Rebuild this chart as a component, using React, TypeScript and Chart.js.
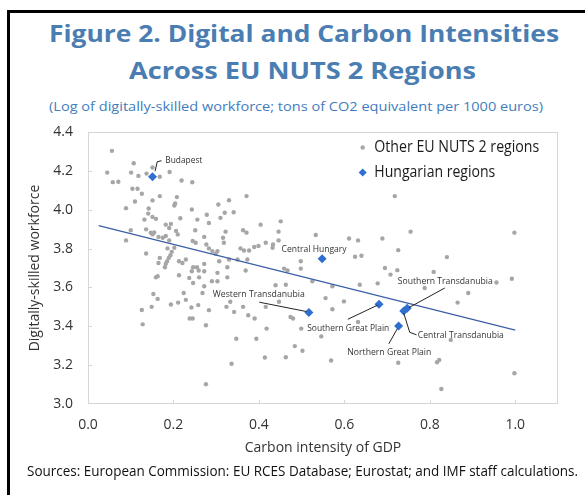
import React, { useEffect, useLayoutEffect, useRef } from "react";
import { Chart, registerables } from "chart.js";

Chart.register(...registerables);

// ---------------- data ----------------
const TITLE_LINE_1 = "Figure 2. Digital and Carbon Intensities";
const TITLE_LINE_2 = "Across EU NUTS 2 Regions";
const SUBTITLE = "(Log of digitally-skilled workforce; tons of CO2 equivalent per 1000 euros)";
const SOURCES = "Sources: European Commission: EU RCES Database; Eurostat; and IMF staff calculations.";
const X_TITLE = "Carbon intensity of GDP";
const Y_TITLE = "Digitally-skilled workforce";
const LEGEND_OTHER = "Other EU NUTS 2 regions";
const LEGEND_HUNGARY = "Hungarian regions";

const X_TICKS = [0, 0.2, 0.4, 0.6, 0.8, 1.0];
const Y_TICKS = [3.0, 3.2, 3.4, 3.6, 3.8, 4.0, 4.2, 4.4];

const otherX = [
  0.056, 0.045, 0.058, 0.071, 0.107, 0.101, 0.118, 0.137, 0.151, 0.168,
  0.191, 0.219, 0.244, 0.104, 0.116, 0.126, 0.168, 0.208, 0.718, 0.371,
  0.151, 0.110, 0.089, 0.142, 0.204, 0.202, 0.243, 0.278, 0.305, 0.330,
  0.320, 0.341, 0.310, 0.404, 0.451, 0.132, 0.141, 0.151, 0.159, 0.182,
  0.194, 0.190, 0.216, 0.256, 0.283, 0.100, 0.089, 0.136, 0.147, 0.151,
  0.155, 0.165, 0.175, 0.182, 0.190, 0.206, 0.210, 0.251, 0.245, 0.252,
  0.272, 0.277, 0.283, 0.291, 0.303, 0.136, 0.186, 0.202, 0.196, 0.193,
  0.189, 0.185, 0.182, 0.180, 0.168, 0.165, 0.322, 0.316, 0.318, 0.363,
  0.371, 0.446, 0.446, 0.533, 0.357, 0.365, 0.377, 0.389, 0.399, 0.416,
  0.432, 0.433, 0.299, 0.307, 0.330, 0.350, 0.373, 0.755, 0.998, 0.611,
  0.632, 0.689, 0.726, 0.625, 0.640, 0.840, 0.498, 0.498, 0.459, 0.467,
  0.326, 0.303, 0.369, 0.303, 0.326, 0.439, 0.463, 0.525, 0.572, 0.556,
  0.599, 0.213, 0.221, 0.229, 0.243, 0.246, 0.255, 0.259, 0.272, 0.272,
  0.237, 0.246, 0.260, 0.272, 0.290, 0.213, 0.163, 0.159, 0.153, 0.163,
  0.695, 0.708, 0.724, 0.809, 0.636, 0.678, 0.788, 0.992, 0.956, 0.890,
  0.865, 0.224, 0.268, 0.229, 0.126, 0.128, 0.149, 0.194, 0.211, 0.242,
  0.238, 0.245, 0.258, 0.276, 0.283, 0.324, 0.333, 0.342, 0.363, 0.375,
  0.390, 0.416, 0.447, 0.418, 0.474, 0.480, 0.572, 0.499, 0.546, 0.632,
  0.849, 0.347, 0.394, 0.484, 0.502, 0.414, 0.463, 0.569, 0.726, 0.817,
  0.822, 0.336, 0.276, 0.827, 0.998,
];

const otherY = [
  4.303, 4.191, 4.142, 4.144, 4.239, 4.191, 4.174, 4.186, 4.217, 4.170,
  4.194, 4.150, 4.141, 4.108, 4.108, 4.082, 4.070, 4.065, 4.070, 4.070,
  4.048, 4.042, 4.008, 4.006, 4.032, 4.022, 4.001, 3.974, 4.027, 4.049,
  3.984, 3.987, 3.958, 3.923, 3.940, 3.949, 3.980, 3.963, 3.953, 3.923,
  3.927, 3.906, 3.956, 3.949, 3.932, 3.894, 3.842, 3.899, 3.882, 3.873,
  3.883, 3.860, 3.856, 3.865, 3.842, 3.891, 3.873, 3.894, 3.839, 3.830,
  3.860, 3.821, 3.801, 3.787, 3.787, 3.775, 3.801, 3.804, 3.783, 3.766,
  3.752, 3.735, 3.721, 3.704, 3.752, 3.726, 3.887, 3.856, 3.830, 3.894,
  3.882, 3.887, 3.842, 3.870, 3.801, 3.790, 3.790, 3.808, 3.813, 3.830,
  3.804, 3.821, 3.773, 3.735, 3.744, 3.744, 3.744, 3.887, 3.882, 3.852,
  3.842, 3.852, 3.792, 3.758, 3.763, 3.756, 3.735, 3.697, 3.697, 3.687,
  3.704, 3.675, 3.687, 3.632, 3.652, 3.611, 3.614, 3.632, 3.606, 3.545,
  3.528, 3.735, 3.726, 3.744, 3.683, 3.704, 3.704, 3.687, 3.721, 3.683,
  3.649, 3.623, 3.652, 3.606, 3.632, 3.663, 3.658, 3.652, 3.566, 3.541,
  3.700, 3.666, 3.689, 3.680, 3.614, 3.621, 3.597, 3.645, 3.625, 3.571,
  3.522, 3.571, 3.571, 3.536, 3.484, 3.410, 3.500, 3.512, 3.522, 3.497,
  3.440, 3.440, 3.509, 3.405, 3.483, 3.500, 3.526, 3.474, 3.500, 3.457,
  3.440, 3.500, 3.526, 3.388, 3.448, 3.440, 3.488, 3.388, 3.348, 3.422,
  3.330, 3.336, 3.336, 3.298, 3.274, 3.239, 3.241, 3.224, 3.212, 3.215,
  3.227, 3.207, 3.102, 3.077, 3.158,
];

const hungaryNames = [
  "Budapest",
  "Central Hungary",
  "Western Transdanubia",
  "Southern Great Plain",
  "Southern Transdanubia",
  "Central Transdanubia",
  "Northern Great Plain",
];
const hungaryX = [0.151, 0.548, 0.517, 0.681, 0.747, 0.739, 0.727];
const hungaryY = [4.17, 3.747, 3.471, 3.514, 3.493, 3.479, 3.402];

const trendX = [0.025, 1.0];
const trendY = [3.918, 3.38];

// ---------------- layout / style (not data) ----------------
const FONT = '"Open Sans", "Noto Sans", sans-serif';
const AXIS_COLOR = "#333333";

// label anchors (data units: left edge x, middle y), target text widths, leader polylines (data units)
const LABEL_LAYOUT: Record<string, { at: [number, number]; w: number; leader: [number, number][] }> = {
  "Budapest": { at: [0.181, 4.253], w: 37, leader: [[0.157, 4.198], [0.162, 4.247], [0.172, 4.252]] },
  "Central Hungary": { at: [0.453, 3.796], w: 65, leader: [] },
  "Western Transdanubia": { at: [0.292, 3.563], w: 92, leader: [[0.401, 3.524], [0.511, 3.476]] },
  "Southern Great Plain": { at: [0.513, 3.39], w: 82, leader: [[0.608, 3.436], [0.678, 3.509]] },
  "Southern Transdanubia": { at: [0.725, 3.633], w: 95, leader: [[0.835, 3.597], [0.751, 3.496]] },
  "Central Transdanubia": { at: [0.772, 3.353], w: 86, leader: [[0.739, 3.467], [0.753, 3.369], [0.769, 3.356]] },
  "Northern Great Plain": { at: [0.607, 3.264], w: 84, leader: [[0.704, 3.31], [0.724, 3.388]] },
};

function diamond(ctx: CanvasRenderingContext2D, x: number, y: number, r: number) {
  ctx.beginPath();
  ctx.moveTo(x, y - r);
  ctx.lineTo(x + r, y);
  ctx.lineTo(x, y + r);
  ctx.lineTo(x - r, y);
  ctx.closePath();
  ctx.fill();
}

const decorPlugin = {
  id: "decor",
  beforeDatasetsDraw(chart: any) {
    const { ctx, chartArea: a, scales } = chart;
    ctx.save();
    ctx.strokeStyle = "#d6d6d6";
    ctx.lineWidth = 1;
    ctx.strokeRect(Math.round(a.left) + 0.5, Math.round(a.top) + 0.5, Math.round(a.right - a.left) - 1, Math.round(a.bottom - a.top) - 1);
    ctx.beginPath();
    X_TICKS.forEach((v) => {
      if (v === 0) return;
      const px = Math.round(scales.x.getPixelForValue(v)) + 0.5;
      ctx.moveTo(px, a.bottom);
      ctx.lineTo(px, a.bottom - 4);
    });
    Y_TICKS.forEach((v) => {
      if (v === 3.0 || v === 4.4) return;
      const py = Math.round(scales.y.getPixelForValue(v)) + 0.5;
      ctx.moveTo(a.left, py);
      ctx.lineTo(a.left + 4, py);
    });
    ctx.stroke();
    ctx.restore();
  },
  afterDatasetsDraw(chart: any) {
    const { ctx, chartArea: a, scales } = chart;
    const sx = (v: number) => scales.x.getPixelForValue(v);
    const sy = (v: number) => scales.y.getPixelForValue(v);
    ctx.save();
    // leaders
    ctx.strokeStyle = "#222222";
    ctx.lineWidth = 1;
    hungaryNames.forEach((name) => {
      const lay = LABEL_LAYOUT[name];
      if (!lay || lay.leader.length < 2) return;
      ctx.beginPath();
      lay.leader.forEach(([x, y], i) => {
        if (i === 0) ctx.moveTo(sx(x), sy(y));
        else ctx.lineTo(sx(x), sy(y));
      });
      ctx.stroke();
    });
    // labels
    ctx.fillStyle = "#333333";
    ctx.font = `9px ${FONT}`;
    ctx.textAlign = "left";
    ctx.textBaseline = "middle";
    hungaryNames.forEach((name) => {
      const lay = LABEL_LAYOUT[name];
      if (!lay) return;
      ctx.fillText(name, sx(lay.at[0]), sy(lay.at[1]), lay.w);
    });
    // legend
    const lx = a.left + 274.7;
    const ly1 = a.top + 15.5;
    const ly2 = a.top + 40.5;
    ctx.fillStyle = "#a6a6a6";
    ctx.beginPath();
    ctx.arc(lx, ly1, 2.2, 0, Math.PI * 2);
    ctx.fill();
    ctx.fillStyle = "#2f6fd0";
    diamond(ctx, lx, ly2, 4);
    ctx.fillStyle = "#1a1a1a";
    ctx.font = `15.5px ${FONT}`;
    ctx.fillText(LEGEND_OTHER, lx + 11.6, ly1, 165);
    ctx.fillText(LEGEND_HUNGARY, lx + 11.6, ly2, 121);
    ctx.restore();
  },
};

function FitText(props: {
  text: string; left: number; cy: number; width: number; size: number;
  weight?: number; color: string;
}) {
  const ref = useRef<HTMLSpanElement>(null);
  const lh = Math.round(props.size * 1.4);
  useLayoutEffect(() => {
    const el = ref.current;
    if (!el) return;
    el.style.transform = "none";
    const w = el.getBoundingClientRect().width;
    if (w > 0) el.style.transform = `scaleX(${props.width / w})`;
  }, [props.text, props.width, props.size]);
  return (
    <span
      ref={ref}
      style={{
        position: "absolute",
        left: props.left,
        top: props.cy - lh / 2 - 0.03 * props.size,
        height: lh,
        lineHeight: `${lh}px`,
        fontSize: props.size,
        fontWeight: props.weight ?? 400,
        color: props.color,
        fontFamily: FONT,
        whiteSpace: "nowrap",
        transformOrigin: "0 50%",
      }}
    >
      {props.text}
    </span>
  );
}

export default function App() {
  const canvasRef = useRef<HTMLCanvasElement>(null);

  useEffect(() => {
    const canvas = canvasRef.current;
    if (!canvas) return;
    const chart = new Chart(canvas, {
      type: "scatter",
      data: {
        datasets: [
          {
            label: LEGEND_HUNGARY,
            data: hungaryX.map((x, i) => ({ x, y: hungaryY[i] })),
            pointStyle: "rectRot",
            pointRadius: 4.5,
            backgroundColor: "#2f6fd0",
            borderColor: "#2f6fd0",
            borderWidth: 0,
            order: 0,
          },
          {
            label: "Trend",
            data: trendX.map((x, i) => ({ x, y: trendY[i] })),
            showLine: true,
            pointRadius: 0,
            borderColor: "#3d5fa6",
            borderWidth: 1.3,
            fill: false,
            order: 1,
          },
          {
            label: LEGEND_OTHER,
            data: otherX.map((x, i) => ({ x, y: otherY[i] })),
            pointRadius: 2.2,
            backgroundColor: "#a6a6a6",
            borderWidth: 0,
            order: 2,
          },
        ],
      },
      options: {
        responsive: false,
        animation: false,
        devicePixelRatio: 1,
        events: [],
        layout: { padding: { left: 20, top: 132, right: 27, bottom: 38.3 } },
        plugins: { legend: { display: false }, tooltip: { enabled: false } },
        scales: {
          x: {
            type: "linear",
            min: 0,
            max: 1.1,
            grid: { display: false, drawTicks: false },
            border: { display: false },
            ticks: {
              stepSize: 0.2,
              includeBounds: false,
              padding: 13,
              color: AXIS_COLOR,
              font: { family: FONT, size: 14 },
              maxRotation: 0,
              autoSkip: false,
              callback: (v: any) => (Number(v) > 1.0001 ? "" : Number(v).toFixed(1)),
            },
            title: {
              display: true,
              text: X_TITLE,
              color: AXIS_COLOR,
              font: { family: FONT, size: 14 },
              padding: { top: 0, bottom: 0 },
            },
            afterFit: (s: any) => {
              s.height = 52.7;
            },
          },
          y: {
            type: "linear",
            min: 3.0,
            max: 4.4,
            grid: { display: false, drawTicks: false },
            border: { display: false },
            ticks: {
              stepSize: 0.2,
              padding: 15,
              color: AXIS_COLOR,
              font: { family: FONT, size: 14 },
              callback: (v: any) => Number(v).toFixed(1),
            },
            title: {
              display: true,
              text: Y_TITLE,
              color: AXIS_COLOR,
              font: { family: FONT, size: 14 },
              padding: { top: 7, bottom: 0 },
            },
            afterFit: (s: any) => {
              s.width = 68;
            },
          },
        },
      } as any,
      plugins: [decorPlugin],
    } as any);
    return () => chart.destroy();
  }, []);

  return (
    <div
      style={{
        position: "fixed",
        left: 0,
        top: 0,
        width: 585,
        height: 495,
        overflow: "hidden",
        background: "#ffffff",
      }}
    >
      <div
        style={{
          position: "absolute",
          left: 7,
          top: 10,
          width: 700,
          height: 600,
          borderLeft: "3px solid #000",
          borderTop: "3px solid #000",
        }}
      />
      <FitText text={TITLE_LINE_1} left={48.5} cy={33.3} width={510} size={24} weight={700} color="#4a7db1" />
      <FitText text={TITLE_LINE_2} left={128.7} cy={71} width={347} size={24} weight={700} color="#4a7db1" />
      <FitText text={SUBTITLE} left={48.5} cy={106.5} width={494} size={13} color="#3f7dbd" />
      <canvas ref={canvasRef} width={585} height={495} style={{ position: "absolute", left: 0, top: 0 }} />
      <FitText text={SOURCES} left={27} cy={471} width={551} size={14.5} color="#111111" />
    </div>
  );
}
